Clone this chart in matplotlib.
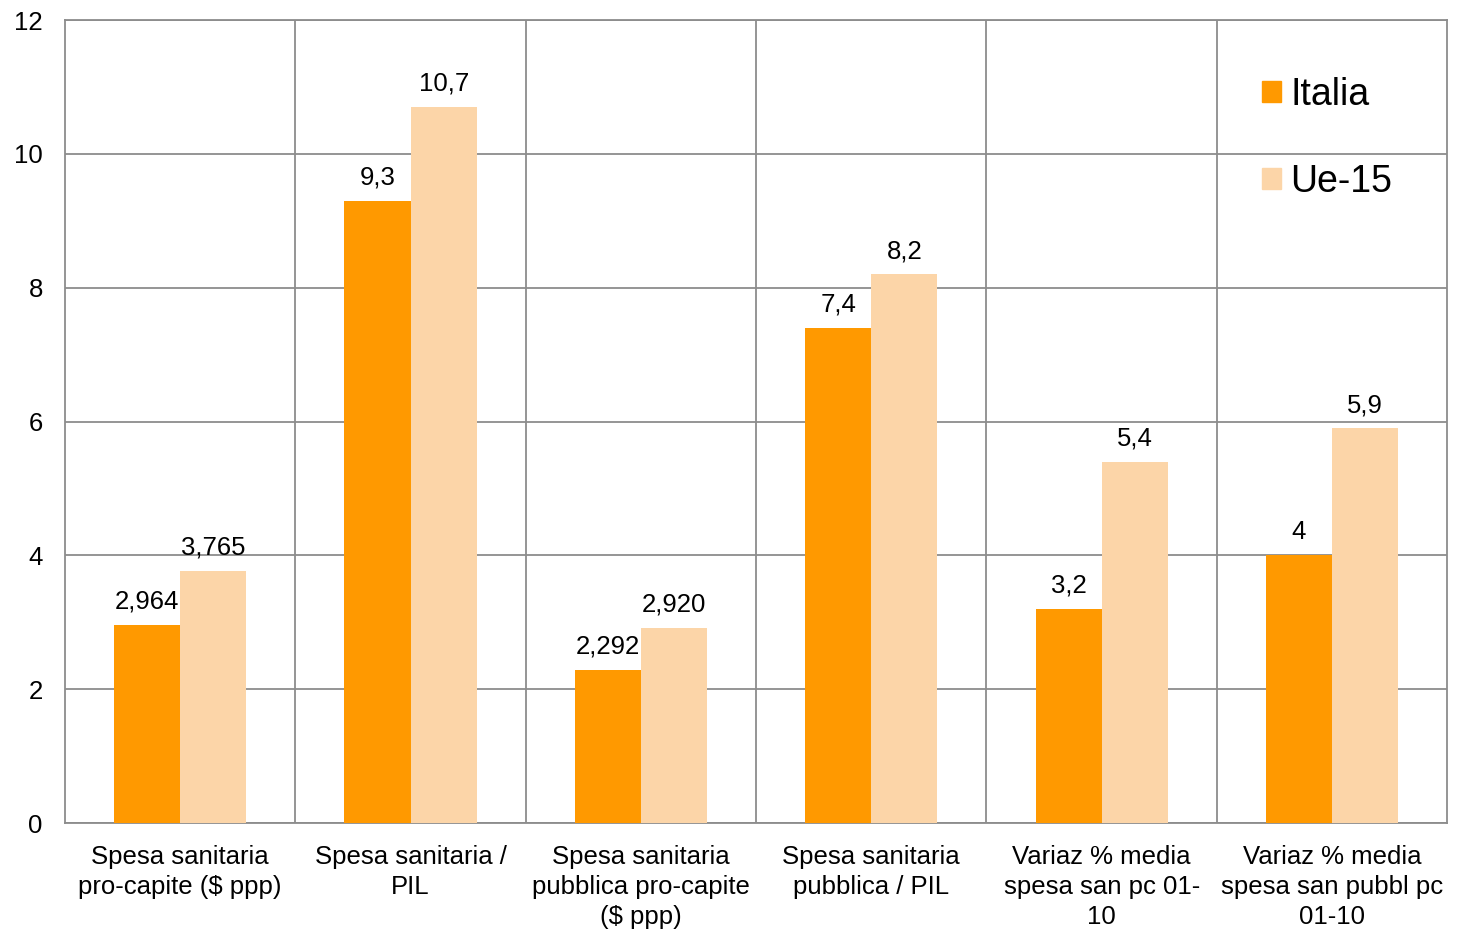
import matplotlib.pyplot as plt
import numpy as np
from matplotlib.patches import Patch

plt.rcParams['font.family'] = ['Liberation Sans', 'DejaVu Sans']

categories = [
    'Spesa sanitaria\npro-capite (\\$ ppp)',
    'Spesa sanitaria /\nPIL',
    'Spesa sanitaria\npubblica pro-capite\n(\\$ ppp)',
    'Spesa sanitaria\npubblica / PIL',
    'Variaz % media\nspesa san pc 01-\n10',
    'Variaz % media\nspesa san pubbl pc\n01-10',
]
italia_labels = ['2,964', '9,3', '2,292', '7,4', '3,2', '4']
ue15_labels = ['3,765', '10,7', '2,920', '8,2', '5,4', '5,9']

# values written with a decimal comma
italia = [float(s.replace(',', '.')) for s in italia_labels]
ue15 = [float(s.replace(',', '.')) for s in ue15_labels]

c_italia = '#FF9900'
c_ue15 = '#FCD5A8'
grid_c = '#8C8C8C'
fs = 18.5

fig = plt.figure(figsize=(14.58, 9.31), dpi=100)
ax = fig.add_axes([0.0446, 0.116, 0.948, 0.8625])

x = np.arange(len(categories))
w = 0.287
b1 = ax.bar(x - w / 2, italia, w, color=c_italia, zorder=3)
b2 = ax.bar(x + w / 2, ue15, w, color=c_ue15, zorder=3)

for bars, labels in ((b1, italia_labels), (b2, ue15_labels)):
    for bar, lab in zip(bars, labels):
        ax.annotate(lab, (bar.get_x() + bar.get_width() / 2, bar.get_height()),
                    xytext=(0, 8), textcoords='offset points',
                    ha='center', va='bottom', fontsize=fs, zorder=4)

ax.set_xlim(-0.5, len(categories) - 0.5)
ax.set_ylim(0, 12)
ax.set_yticks(range(0, 13, 2))
ax.set_xticks(x)
ax.set_xticklabels(categories, fontsize=fs, linespacing=1.32)
ax.set_xticks(np.arange(0.5, len(categories) - 0.5, 1), minor=True)
ax.tick_params(axis='both', which='both', length=0, labelsize=fs)
ax.tick_params(axis='x', pad=16)
ax.tick_params(axis='y', pad=16)

ax.grid(axis='y', which='major', color=grid_c, linewidth=1.3, zorder=0)
ax.grid(axis='x', which='minor', color=grid_c, linewidth=1.3, zorder=0)
ax.grid(axis='x', which='major', visible=False)
for s in ax.spines.values():
    s.set_color(grid_c)
    s.set_linewidth(1.3)

handles = [Patch(color=c_italia), Patch(color=c_ue15)]
ax.legend(handles, ['Italia', 'Ue-15'], loc='upper left',
          bbox_to_anchor=(0.866, 0.929), frameon=False, fontsize=27,
          handlelength=0.5, handleheight=0.5, handletextpad=0.25,
          labelspacing=1.36, borderaxespad=0, borderpad=0)

fig.savefig('out.png', dpi=100)
